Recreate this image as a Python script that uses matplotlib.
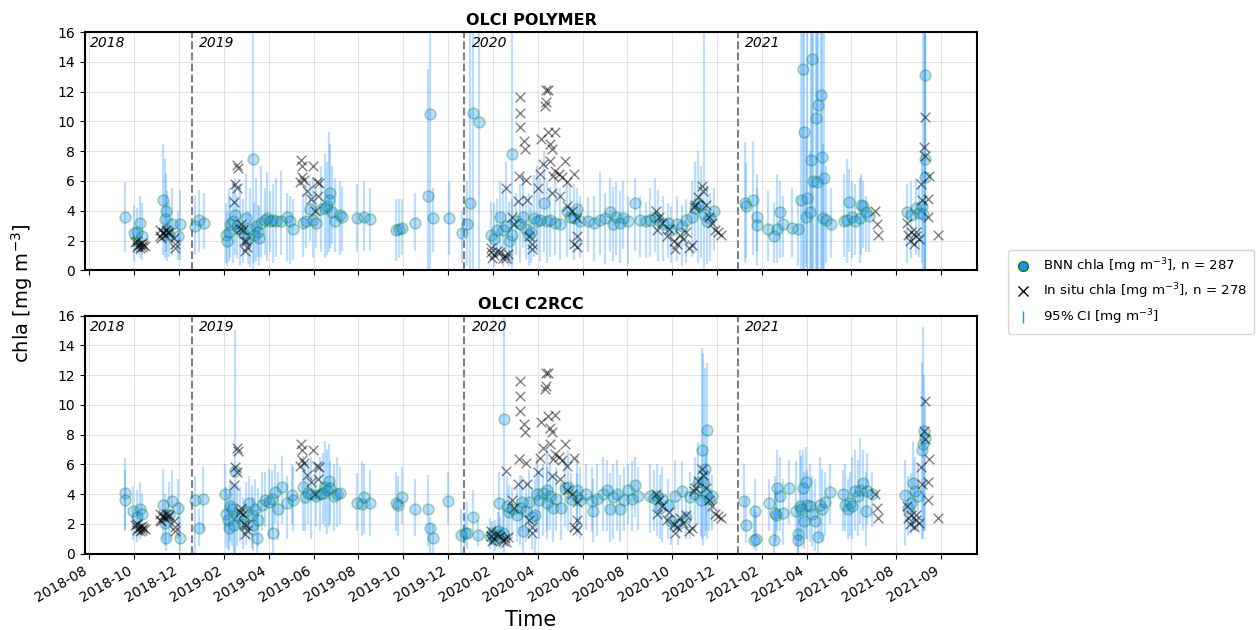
import matplotlib.pyplot as plt
import matplotlib.dates as mdates
from matplotlib.lines import Line2D
import numpy as np
import pandas as pd

start_date = '2018-08-01'   # day 0 of the campaign

# OLCI POLYMER: BNN estimate and 95% CI (day since start, value, lower, upper)
poly_day = [64, 76, 79, 83, 86, 115, 117, 119, 120, 123, 127, 134, 137, 157, 163, 169,
            199, 200, 203, 204, 208, 211, 214, 218, 222, 226, 228, 231, 235, 236, 239, 242,
            243, 246, 251, 254, 258, 262, 266, 273, 280, 285, 288, 302, 306, 311, 315, 319,
            326, 331, 334, 337, 338, 341, 345, 352, 354, 374, 383, 391, 426, 430, 434, 452,
            469, 472, 476, 497, 515, 521, 526, 529, 537,
            553, 557, 562, 566, 570, 573, 577, 581, 582, 587,
            593, 597, 600, 604, 607, 611, 615, 619, 624, 628, 632, 639, 646, 655, 659, 664,
            668, 672, 683, 692, 699, 706, 713, 717, 721, 726, 730, 737, 746, 753, 761, 767,
            773, 777, 784, 790, 795, 802, 809, 814, 822, 827, 831, 834, 838, 842, 847, 852,
            893, 895, 904, 909, 909, 924, 933, 936, 941, 944, 957, 965, 968, 971, 973, 975,
            977, 980, 982, 983, 984, 988, 990, 991, 995, 997, 998, 999, 1002, 1009,
            1026, 1030, 1033, 1037, 1041, 1047, 1049, 1052, 1056, 1060,
            1111, 1116, 1122, 1127, 1131, 1134, 1135, 1135, 1132]
poly_val = [3.55, 2.5, 2.6, 3.2, 2.3, 4.75, 3.45, 4.0, 2.7, 2.4, 3.1, 2.3, 3.1, 3.0, 3.4, 3.15,
            2.4, 2.0, 2.6, 3.1, 3.3, 3.7, 3.0, 2.8, 2.5, 3.5, 2.2, 2.8, 7.5, 2.4, 3.0, 2.6,
            2.2, 3.2, 3.4, 3.5, 3.3, 3.4, 3.3, 3.3, 3.55, 3.3, 2.75, 3.2, 3.3, 4.1, 3.4, 3.2,
            4.1, 4.2, 4.3, 4.7, 5.2, 3.9, 3.3, 3.7, 3.6, 3.5, 3.55, 3.45, 2.7, 2.8, 2.85, 3.2,
            5.0, 10.5, 3.5, 3.5, 2.5, 3.1, 4.55, 10.55, 9.95,
            2.4, 2.1, 2.7, 3.6, 2.7, 3.0, 2.0, 7.8, 2.4, 3.3,
            3.1, 3.6, 2.8, 2.4, 2.6, 3.5, 3.3, 3.4, 4.5, 3.3, 3.4, 3.2, 3.1, 4.0, 3.6, 3.5,
            4.1, 3.3, 3.3, 3.2, 3.35, 3.5, 3.95, 3.1, 3.6, 3.2, 3.5, 3.3, 4.55, 3.4, 3.3, 3.35,
            3.6, 3.4, 3.1, 3.2, 2.7, 3.1, 3.0, 3.35, 3.6, 4.2, 4.5, 4.3, 3.8, 3.3, 3.5, 4.0,
            4.5, 4.35, 4.7, 3.6, 3.05, 2.75, 2.3, 2.75, 3.95, 3.1, 2.85, 2.8, 4.7, 13.55, 9.3, 3.6,
            4.85, 3.9, 7.4, 14.2, 6.0, 10.2, 5.9, 11.1, 11.8, 7.6, 3.5, 6.2, 3.4, 3.1,
            3.3, 3.4, 4.6, 3.6, 3.3, 3.5, 4.4, 4.3, 3.9, 3.65,
            3.9, 3.7, 4.2, 3.85, 4.3, 6.25, 7.5, 13.1, 3.8]
poly_lo = [1.2, 0.6, 1.0, 0.8, 0.7, 1.0, 0.8, 1.2, 0.6, 0.9, 1.0, 0.7, 0.7, 1.0, 1.2, 1.4,
           0.5, 0.3, 0.6, 0.8, 0.5, 1.0, 0.8, 0.3, 0.5, 1.2, 0.4, 0.2, 0.1, 0.5, 0.6, 0.9,
           0.3, 0.8, 1.0, 0.6, 1.2, 0.5, 0.9, 1.0, 0.6, 0.4, 0.7, 0.9, 1.5, 2.0, 0.8, 1.5,
           1.2, 0.8, 1.0, 1.2, 1.5, 1.8, 1.2, 1.0, 1.3, 1.2, 1.3, 1.3, 0.6, 0.8, 1.0, 1.3,
           0.0, 0.0, 1.2, 1.0, 0.5, 0.3, 0.0, 0.0, 0.0,
           0.7, 0.2, 0.8, 1.0, 0.2, 1.2, 0.3, 0.0, 0.4, 1.0,
           0.5, 1.5, 0.7, 0.3, 0.5, 0.9, 1.2, 0.6, 1.2, 0.5, 0.9, 1.0, 0.7, 0.9, 1.5, 0.7,
           1.4, 0.8, 1.2, 0.6, 1.0, 0.4, 1.2, 0.6, 1.0, 0.5, 1.4, 0.4, 1.3, 0.9, 0.8, 0.9,
           1.2, 0.6, 0.6, 0.8, 0.5, 0.6, 0.3, 0.5, 0.9, 1.2, 0.5, 0.8, 0.0, 0.4, 0.6, 1.3,
           0.5, 0.8, 1.0, 0.3, 1.3, 0.6, 0.5, 0.5, 0.8, 0.9, 0.9, 0.3, 0.0, 0.0, 0.0, 0.2,
           0.0, 0.0, 0.0, 0.0, 0.0, 0.0, 0.0, 0.0, 0.0, 0.0, 0.0, 0.0, 0.5, 0.8,
           0.9, 0.5, 1.2, 0.8, 1.0, 0.5, 1.0, 1.5, 1.2, 1.2,
           0.5, 0.8, 1.0, 0.9, 0.5, 0.0, 0.0, 0.0, 0.0]
poly_hi = [5.9, 4.4, 4.2, 5.0, 4.5, 8.5, 7.5, 6.5, 5.3, 4.5, 5.5, 4.0, 5.4, 5.0, 5.4, 5.2,
           4.5, 4.0, 5.5, 5.0, 6.0, 6.2, 5.0, 5.8, 4.8, 6.5, 4.0, 5.5, 18.0, 4.6, 6.2, 4.4,
           4.3, 7.0, 5.5, 6.6, 5.3, 5.8, 6.2, 6.7, 5.2, 5.0, 4.8, 5.2, 5.9, 6.0, 6.3, 5.5,
           7.0, 7.9, 7.3, 9.3, 8.5, 7.0, 6.2, 6.0, 5.6, 5.8, 6.0, 5.5, 4.8, 4.8, 4.8, 5.2,
           13.5, 18.0, 5.5, 6.0, 4.0, 6.0, 18.0, 18.0, 18.0,
           4.6, 4.5, 4.8, 6.0, 5.5, 7.3, 4.6, 18.0, 4.8, 5.2,
           5.8, 6.5, 5.0, 5.2, 4.3, 6.4, 7.0, 6.2, 8.0, 6.0, 5.6, 6.3, 5.5, 6.0, 5.8, 5.8,
           5.5, 5.0, 4.9, 5.0, 6.6, 5.2, 6.2, 5.6, 5.9, 5.3, 6.0, 5.0, 6.2, 5.0, 4.6, 5.5,
           6.2, 5.4, 5.0, 4.5, 4.3, 5.0, 4.4, 4.8, 6.0, 7.3, 8.0, 7.0, 18.0, 5.7, 5.2, 5.5,
           8.6, 7.2, 8.7, 6.5, 5.5, 5.3, 4.5, 6.5, 6.0, 5.0, 5.5, 5.0, 18.0, 18.0, 18.0, 9.0,
           18.0, 8.0, 18.0, 18.0, 18.0, 18.0, 18.0, 18.0, 18.0, 18.0, 8.5, 18.0, 7.0, 5.5,
           6.5, 7.5, 6.8, 6.0, 5.8, 6.2, 6.5, 6.0, 5.0, 4.2,
           5.8, 6.0, 6.2, 5.7, 8.0, 18.0, 18.0, 18.0, 18.0]

# OLCI C2RCC: BNN estimate and 95% CI
c2_day = [64, 64, 74, 79, 83, 86, 114, 117, 119, 123, 127, 134, 137, 157, 163, 168,
          198, 199, 202, 203, 204, 207, 210, 211, 214, 218, 222, 226, 229, 233, 235, 238,
          240, 242, 247, 251, 256, 260, 262, 265, 268, 274, 280, 287, 288,
          302, 304, 308, 313, 319, 325, 329, 331, 334, 337, 338, 344, 347, 351,
          374, 381, 384, 391, 426, 429, 434, 452, 469, 472, 476, 496,
          514, 519, 522, 529, 536,
          552, 555, 559, 563, 566, 570, 564, 571, 575, 578, 581,
          588, 592, 595, 597, 601, 605, 608, 612, 615, 618, 623, 628, 629, 633, 636, 641,
          647, 652, 656, 661, 668, 669, 672, 681,
          689, 690, 695, 703, 709, 713, 717, 722, 726, 732, 737, 742, 746, 750,
          767, 772, 776, 780, 783, 790, 795, 800, 804, 809, 815, 820, 826, 830, 835, 836,
          837, 840, 841, 843, 845, 849,
          892, 895, 905, 907, 908, 925, 932, 934, 935, 937, 940, 944, 953, 962, 964, 965,
          967, 969, 971, 972, 975, 977, 980, 983, 987, 991, 994, 997, 1001, 1007,
          1025, 1028, 1032, 1034, 1037, 1041, 1045, 1048, 1052, 1055, 1057, 1064,
          1108, 1112, 1116, 1119, 1121, 1125, 1130, 1132, 1133, 1134]
c2_val = [4.1, 3.6, 2.85, 2.5, 3.0, 2.7, 3.3, 2.1, 1.05, 2.6, 3.55, 3.1, 1.05, 3.6, 1.75, 3.7,
          4.0, 2.7, 2.3, 1.7, 3.2, 3.0, 1.9, 5.55, 2.6, 2.4, 2.0, 2.9, 3.4, 2.6, 1.9, 3.0,
          1.05, 2.3, 3.3, 3.6, 3.5, 3.7, 1.4, 4.15, 3.0, 4.5, 3.4, 3.95, 3.6,
          4.5, 3.8, 4.1, 4.0, 3.9, 4.0, 4.1, 4.5, 4.3, 4.9, 4.4, 3.9, 4.0, 4.05,
          3.4, 3.35, 3.8, 3.4, 3.4, 3.3, 3.8, 3.0, 3.0, 1.7, 1.05, 3.55,
          1.25, 1.4, 1.4, 2.45, 1.25,
          1.2, 1.4, 1.0, 1.5, 1.2, 1.4, 3.4, 9.05, 3.2, 2.8, 3.0,
          2.6, 3.1, 3.5, 1.55, 2.9, 3.5, 2.5, 2.6, 4.0, 3.6, 4.1, 3.4, 4.3, 3.9, 3.1, 3.7,
          3.1, 4.4, 4.5, 3.7, 4.3, 3.8, 3.6, 4.0,
          3.55, 2.85, 3.7, 4.0, 4.3, 3.0, 3.8, 4.0, 3.0, 3.6, 4.3, 3.7, 4.6, 3.85,
          3.85, 3.75, 3.9, 3.1, 3.7, 3.3, 2.2, 3.9, 2.0, 4.2, 2.5, 3.8, 4.0, 4.8, 3.6, 7.0,
          4.8, 5.7, 4.1, 8.3, 3.7, 3.9,
          3.55, 1.95, 0.95, 2.85, 1.0, 3.4, 0.95, 2.75, 2.6, 4.4, 3.9, 2.75, 4.45, 2.9, 1.35, 0.95,
          3.2, 3.0, 4.45, 2.2, 4.8, 3.3, 3.2, 2.7, 2.2, 1.1, 3.3, 3.0, 3.5, 4.15,
          4.0, 3.3, 3.0, 3.4, 3.2, 4.2, 3.9, 4.3, 4.75, 2.9, 4.2, 4.0,
          3.95, 3.1, 3.4, 4.75, 4.2, 3.9, 7.0, 7.4, 8.25, 7.8]
c2_lo = [1.5, 1.6, 0.9, 0.8, 1.0, 1.2, 0.9, 0.5, 0.2, 0.8, 1.5, 1.0, 0.2, 0.0, 0.5, 1.5,
         1.5, 0.4, 0.3, 0.2, 0.8, 0.5, 0.0, 0.0, 0.5, 0.8, 0.3, 0.6, 1.0, 0.4, 0.2, 1.2,
         0.0, 0.5, 1.5, 1.8, 1.0, 1.5, 0.0, 2.0, 0.9, 2.0, 1.0, 2.0, 1.5,
         1.5, 1.5, 2.0, 1.0, 1.8, 1.5, 2.0, 1.8, 1.3, 1.8, 2.0, 1.5, 1.8, 2.0,
         1.5, 1.2, 1.3, 1.2, 1.5, 1.2, 2.0, 1.2, 0.5, 0.0, 0.0, 2.0,
         0.0, 0.5, 0.3, 1.5, 0.5,
         0.3, 0.6, 0.2, 0.5, 0.3, 0.4, 1.2, 0.0, 1.0, 0.7, 1.0,
         0.8, 0.6, 1.5, 0.0, 0.8, 1.0, 0.3, 0.0, 1.5, 1.0, 1.2, 1.0, 1.5, 1.6, 0.8, 1.5,
         0.9, 1.8, 1.5, 1.4, 1.6, 1.2, 1.0, 1.6,
         1.5, 0.8, 1.2, 1.5, 1.5, 0.8, 1.0, 1.5, 0.8, 1.5, 2.0, 1.5, 2.5, 1.6,
         1.4, 1.5, 1.2, 1.0, 0.8, 1.0, 0.6, 1.5, 0.6, 1.8, 1.0, 1.0, 1.5, 2.0, 1.2, 1.0,
         0.5, 1.2, 1.5, 1.0, 1.5, 1.6,
         1.5, 0.7, 0.3, 1.0, 0.2, 1.5, 0.0, 0.6, 0.8, 1.5, 1.5, 0.6, 2.0, 0.5, 0.0, 0.0,
         0.8, 0.5, 1.5, 0.3, 1.0, 1.0, 0.8, 0.5, 0.2, 0.0, 1.0, 0.8, 1.2, 2.0,
         1.5, 1.5, 1.0, 1.2, 1.0, 1.5, 1.2, 2.0, 1.5, 0.5, 2.0, 1.8,
         0.5, 1.2, 1.3, 1.5, 1.5, 1.5, 1.0, 1.0, 1.5, 1.5]
c2_hi = [6.4, 5.6, 4.5, 4.3, 4.8, 4.0, 5.7, 4.0, 3.0, 4.8, 5.6, 5.0, 3.5, 5.2, 3.0, 5.8,
         6.0, 4.5, 4.0, 3.5, 5.0, 4.8, 4.5, 15.0, 4.6, 4.5, 3.8, 4.8, 5.2, 4.6, 3.8, 5.0,
         3.0, 4.4, 5.5, 5.5, 5.7, 5.6, 3.5, 6.0, 5.5, 6.6, 5.2, 6.0, 5.8,
         6.6, 6.0, 6.2, 6.5, 6.0, 6.5, 6.8, 7.6, 7.0, 7.4, 6.2, 6.0, 6.5, 5.8,
         5.4, 6.2, 6.0, 5.6, 5.5, 5.2, 5.8, 5.0, 5.3, 2.5, 2.0, 5.5,
         3.0, 2.8, 3.5, 4.3, 2.3,
         2.4, 2.2, 2.3, 2.8, 2.5, 3.0, 5.5, 18.0, 5.2, 4.6, 4.5,
         4.6, 5.3, 5.2, 3.0, 4.8, 5.6, 4.5, 5.0, 6.5, 5.5, 6.0, 5.8, 7.0, 6.0, 5.4, 5.8,
         4.8, 6.4, 7.0, 5.4, 6.6, 5.4, 5.8, 6.0,
         5.8, 5.0, 6.0, 6.5, 6.3, 5.4, 6.0, 6.3, 5.3, 5.8, 6.0, 6.2, 6.5, 5.8,
         6.0, 5.6, 6.0, 5.3, 5.8, 5.0, 3.6, 6.3, 3.6, 6.2, 4.2, 5.5, 6.5, 7.5, 5.5, 13.8,
         13.5, 12.5, 6.8, 12.8, 5.5, 5.3,
         6.0, 3.8, 3.0, 5.0, 2.8, 5.0, 2.8, 5.2, 4.5, 7.0, 6.5, 5.0, 6.3, 6.2, 3.5, 2.6,
         7.0, 6.6, 7.0, 5.5, 7.2, 5.6, 6.0, 5.2, 5.0, 3.0, 6.5, 5.7, 5.5, 6.0,
         5.6, 6.0, 5.0, 5.5, 6.5, 7.0, 6.3, 7.8, 7.0, 5.5, 6.8, 5.5,
         6.3, 5.2, 5.4, 7.5, 6.5, 6.0, 12.8, 15.2, 12.0, 10.5]

# in situ chla (same for both panels)
insitu_day = [77, 79, 80, 81, 83, 84, 86, 87, 88, 91,
              110, 111, 112, 114, 115, 117, 118, 121, 123, 129, 130, 131,
              210, 211, 214, 214, 215, 218, 219, 222, 223, 224, 226, 227,
              299, 300, 301, 298, 303, 307, 315, 313, 320, 323, 318, 322,
              553, 554, 555, 557, 561, 565, 569, 572, 576, 574,
              573, 582, 584, 589, 591, 593, 593, 593, 598, 599, 601, 602, 605, 608, 609,
              617, 619, 621, 623, 627, 630, 626, 627, 630, 639, 632, 635, 632, 637, 639,
              644, 648, 653, 655, 635, 646, 665, 655, 662, 668, 668, 669, 665,
              775, 776, 779, 782, 789, 792, 798, 800, 803, 807, 811, 815, 818, 822, 825,
              827, 831, 836, 837, 841, 845, 849, 854, 857, 861,
              1068, 1070, 1072,
              1111, 1112, 1115, 1116, 1120, 1122, 1123, 1126, 1129, 1131, 1133, 1134,
              1135, 1138, 1139, 1140, 1152]
insitu_val = [1.9, 1.6, 2.0, 1.7, 1.5, 1.8, 1.6, 1.85, 1.7, 1.65,
              2.3, 2.7, 2.2, 2.5, 2.6, 2.4, 2.7, 2.5, 2.6, 2.2, 1.5, 1.8,
              4.6, 5.8, 5.5, 7.1, 6.9, 2.8, 3.1, 2.7, 2.0, 1.3, 1.95, 1.6,
              7.4, 7.0, 6.3, 5.9, 6.1, 5.3, 7.0, 4.8, 5.9, 5.85, 4.0, 5.0,
              1.5, 1.2, 0.85, 1.0, 1.3, 1.2, 0.85, 1.05, 1.1, 0.8,
              5.56, 3.6, 3.1, 4.66, 6.35, 11.63, 10.6, 9.6, 8.7, 8.15, 6.1, 4.7, 2.3, 1.4, 1.8,
              5.5, 6.46, 8.83, 7.13, 12.13, 12.13, 11.07, 11.3, 9.27, 9.3, 8.48, 8.15, 7.36, 6.35, 6.7,
              6.5, 6.3, 7.36, 5.9, 5.2, 5.0, 6.46, 4.3, 4.0, 3.5, 2.3, 1.6, 1.8,
              4.0, 2.7, 3.6, 3.2, 2.3, 2.8, 2.0, 1.4, 1.8, 2.4, 2.1, 2.6, 1.5, 1.7, 4.25,
              4.4, 4.9, 5.67, 5.3, 4.4, 3.6, 3.2, 2.7, 2.55, 2.4,
              4.0, 3.1, 2.37,
              3.2, 2.4, 2.0, 2.6, 1.8, 2.3, 2.6, 2.1, 5.83, 4.7, 8.26, 10.28,
              7.7, 3.6, 4.8, 6.35, 2.4]

years = ['2018', '2019', '2020', '2021']
n_bnn = 287
n_insitu = 278


def to_date(days):
    return pd.Timestamp(start_date) + pd.to_timedelta(np.array(days), unit='D')


fig, (ax1, ax2) = plt.subplots(2, 1, figsize=(12.57, 6.3), dpi=100, sharex=True)
fig.subplots_adjust(left=0.0676, right=0.7772, bottom=0.121, top=0.949, hspace=0.19)

panels = [(ax1, 'OLCI POLYMER', poly_day, poly_val, poly_lo, poly_hi),
          (ax2, 'OLCI C2RCC', c2_day, c2_val, c2_lo, c2_hi)]

xmin = to_date([10])[0]
xmax = to_date([1204])[0]

for ax, title, d, v, lo, hi in panels:
    t = to_date(d)
    ax.vlines(t, lo, hi, color='dodgerblue', alpha=0.3, lw=1.6, zorder=2)
    ax.scatter(t, v, s=60, facecolor='dodgerblue', edgecolor='green',
               alpha=0.3, linewidths=1.2, zorder=3)
    ax.scatter(to_date(insitu_day), insitu_val, marker='x', c='k', alpha=0.5,
               s=48, linewidths=1, zorder=4)
    # year separators
    for y in years[1:]:
        ax.axvline(pd.Timestamp(y + '-01-01'), color='gray', ls='--', lw=1.5, zorder=1)
    for i, y in enumerate(years):
        xt = xmin + pd.Timedelta(days=7) if i == 0 else pd.Timestamp(y + '-01-01') + pd.Timedelta(days=10)
        ax.text(xt, 15.25, y, style='italic', fontsize=10, va='center', ha='left')
    ax.set_title(title, fontsize=11.5, fontweight='bold', pad=5)
    ax.set_ylim(0, 16)
    ax.set_yticks(np.arange(0, 17, 2))
    ax.set_xlim(xmin, xmax)
    ax.grid(True, alpha=0.35)
    ax.tick_params(labelsize=10)
    for s in ax.spines.values():
        s.set_linewidth(1.5)

ticks = pd.date_range('2018-08-17', periods=20, freq='60D')
ax2.set_xticks(ticks)
ax2.xaxis.set_major_formatter(mdates.DateFormatter('%Y-%m'))
plt.setp(ax2.get_xticklabels(), rotation=30, ha='right')
ax2.set_xlabel('Time', fontsize=15)

fig.text(0.0175, 0.535, 'chla [mg m$^{-3}$]', rotation=90, fontsize=14,
         va='center', ha='center')

handles = [Line2D([], [], ls='', marker='o', markerfacecolor='dodgerblue',
                  markeredgecolor='green', markersize=7),
           Line2D([], [], ls='', marker='x', color='k', markersize=7),
           Line2D([], [], ls='', marker='|', color='dodgerblue', markersize=8)]
labels = [f'BNN chla [mg m$^{{-3}}$], n = {n_bnn}',
          f'In situ chla [mg m$^{{-3}}$], n = {n_insitu}',
          '95% CI [mg m$^{-3}$]']
fig.legend(handles, labels, loc='center left', bbox_to_anchor=(0.797, 0.537),
           fontsize=9.6, frameon=True, handlelength=1.2, handletextpad=0.9,
           labelspacing=0.45, borderpad=0.5)

fig.savefig('out.png', dpi=100)
